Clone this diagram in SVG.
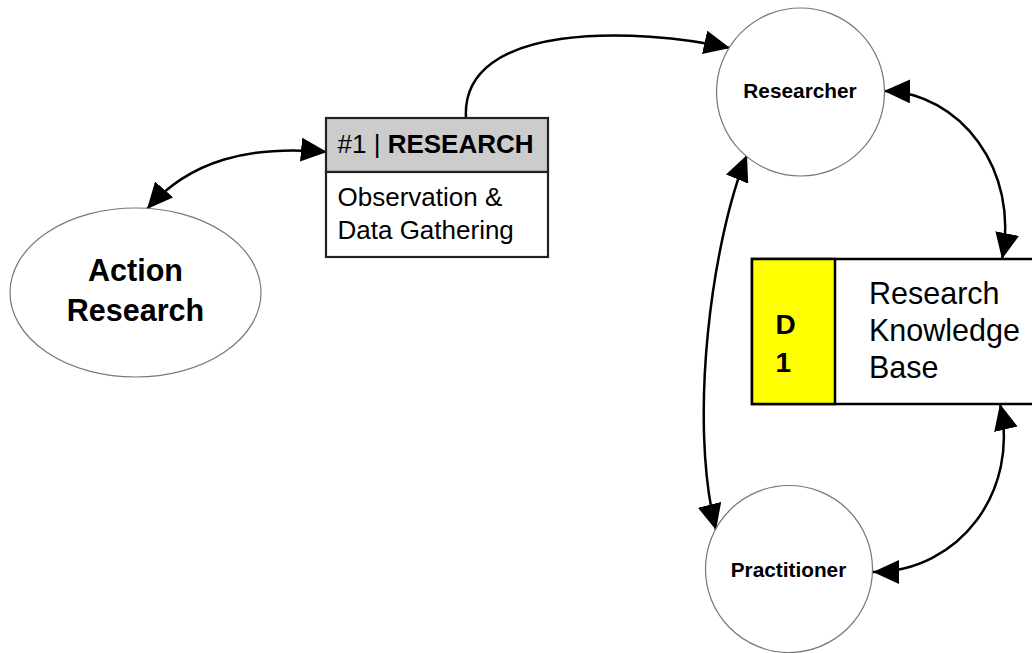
<svg xmlns="http://www.w3.org/2000/svg" width="1032" height="653" viewBox="0 0 1032 653">
<style>
text{font-family:"Liberation Sans",Arial,sans-serif;fill:#000}
.b{font-weight:bold}
.node{fill:#fff;stroke:#777;stroke-width:1.2}
.conn{fill:none;stroke:#000;stroke-width:2.5}
.box{stroke:#222;stroke-width:2.2}
</style>
<defs>
<marker id="ah" markerUnits="userSpaceOnUse" markerWidth="28" markerHeight="24" refX="26" refY="12" orient="auto-start-reverse" viewBox="0 0 28 24">
<path d="M0,0 L26,12 L0,24 Z" fill="#000"/>
</marker>
</defs>
<rect width="1032" height="653" fill="#fff"/>
<g id="connectors">
<path class="conn" d="M147,209 C190,160 250,145 327,152" marker-start="url(#ah)" marker-end="url(#ah)"/>
<path class="conn" d="M466,118 C460,20 640,28 730,48" marker-end="url(#ah)"/>
<path class="conn" d="M884,91 C960,92 1020,170 1002,259" marker-start="url(#ah)" marker-end="url(#ah)"/>
<path class="conn" d="M747,155 C712,240 688,420 716,530" marker-start="url(#ah)" marker-end="url(#ah)"/>
<path class="conn" d="M1000,404 C1020,490 960,572 873,572" marker-start="url(#ah)" marker-end="url(#ah)"/>
</g>
<g id="action-research">
<ellipse class="node" cx="135.5" cy="292.5" rx="125.5" ry="84.5"/>
<text class="b" x="135.5" y="281" font-size="30.5" text-anchor="middle">Action</text>
<text class="b" x="135.5" y="321" font-size="30.5" text-anchor="middle">Research</text>
</g>
<g id="process-research">
<rect class="box" x="326" y="118" width="222" height="54" fill="#cccccc"/>
<rect class="box" x="326" y="172" width="222" height="85" fill="#fff"/>
<text x="337.5" y="153" font-size="26">#1 | <tspan class="b">RESEARCH</tspan></text>
<text x="337.5" y="205.5" font-size="26">Observation &amp;</text>
<text x="337.5" y="238.5" font-size="26">Data Gathering</text>
</g>
<g id="researcher">
<circle class="node" cx="800.5" cy="92" r="84"/>
<text class="b" x="800" y="98" font-size="20.8" text-anchor="middle">Researcher</text>
</g>
<g id="practitioner">
<circle class="node" cx="789" cy="569" r="83.5"/>
<text class="b" x="788.5" y="577" font-size="20.8" text-anchor="middle">Practitioner</text>
</g>
<g id="datastore-d1">
<rect x="752" y="259" width="300" height="145" fill="#fff" stroke="#000" stroke-width="2.5"/>
<rect x="752" y="259" width="83" height="145" fill="#ffff00" stroke="#000" stroke-width="2.5"/>
<text class="b" x="775.5" y="334" font-size="28">D</text>
<text class="b" x="775.5" y="372" font-size="28">1</text>
<text x="869" y="304" font-size="30.5">Research</text>
<text x="869" y="341" font-size="30.5">Knowledge</text>
<text x="869" y="378" font-size="30.5">Base</text>
</g>
</svg>
